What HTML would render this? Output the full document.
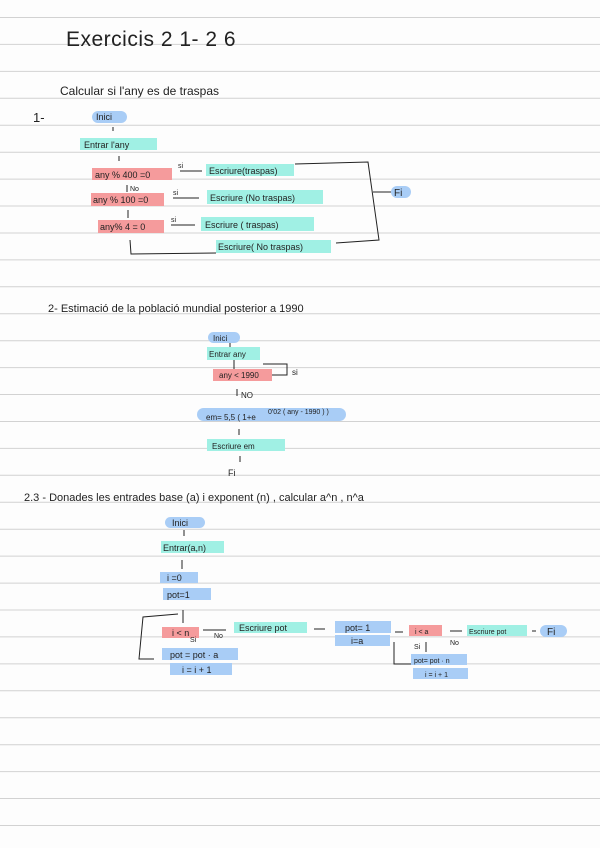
<!DOCTYPE html>
<html><head><meta charset="utf-8">
<style>
html,body{margin:0;padding:0;background:#fdfdfd;}
body{width:600px;height:848px;position:relative;overflow:hidden;font-family:"Liberation Sans",sans-serif;color:#222;}
svg{position:absolute;left:0;top:0;}
text{font-family:"Liberation Sans",sans-serif;fill:#222;}
</style></head><body>
<svg width="600" height="848" viewBox="0 0 600 848">
<g stroke="#d2d2d2" stroke-width="1">
<line x1="0" y1="17.5" x2="600" y2="17.5"/><line x1="0" y1="44.4" x2="600" y2="44.4"/><line x1="0" y1="71.4" x2="600" y2="71.4"/><line x1="0" y1="98.3" x2="600" y2="98.3"/><line x1="0" y1="125.2" x2="600" y2="125.2"/><line x1="0" y1="152.2" x2="600" y2="152.2"/><line x1="0" y1="179.1" x2="600" y2="179.1"/><line x1="0" y1="206" x2="600" y2="206"/><line x1="0" y1="233" x2="600" y2="233"/><line x1="0" y1="259.9" x2="600" y2="259.9"/><line x1="0" y1="286.8" x2="600" y2="286.8"/><line x1="0" y1="313.7" x2="600" y2="313.7"/><line x1="0" y1="340.7" x2="600" y2="340.7"/><line x1="0" y1="367.6" x2="600" y2="367.6"/><line x1="0" y1="394.5" x2="600" y2="394.5"/><line x1="0" y1="421.5" x2="600" y2="421.5"/><line x1="0" y1="448.4" x2="600" y2="448.4"/><line x1="0" y1="475.3" x2="600" y2="475.3"/><line x1="0" y1="502.3" x2="600" y2="502.3"/><line x1="0" y1="529.2" x2="600" y2="529.2"/><line x1="0" y1="556.1" x2="600" y2="556.1"/><line x1="0" y1="583.1" x2="600" y2="583.1"/><line x1="0" y1="610" x2="600" y2="610"/><line x1="0" y1="636.9" x2="600" y2="636.9"/><line x1="0" y1="663.9" x2="600" y2="663.9"/><line x1="0" y1="690.8" x2="600" y2="690.8"/><line x1="0" y1="717.7" x2="600" y2="717.7"/><line x1="0" y1="744.7" x2="600" y2="744.7"/><line x1="0" y1="771.6" x2="600" y2="771.6"/><line x1="0" y1="798.5" x2="600" y2="798.5"/><line x1="0" y1="825.5" x2="600" y2="825.5"/>
</g>
<!-- headings -->
<text x="66" y="46" font-size="21" font-weight="300" letter-spacing="0.5">Exercicis  2 1- 2 6</text>
<text x="60" y="95" font-size="12">Calcular si l'any es de traspas</text>
<text x="33" y="122" font-size="13">1-</text>

<!-- section 1 shapes -->
<g>
<rect x="92" y="111" width="35" height="12" rx="6" fill="#a9cdf6"/>
<rect x="80" y="138" width="77" height="12" fill="#a0f0e4"/>
<rect x="92" y="168" width="80" height="12" fill="#f59b9c"/>
<rect x="206" y="164" width="88" height="12" fill="#a0f0e4"/>
<rect x="91" y="193" width="73" height="13" fill="#f59b9c"/>
<rect x="207" y="190" width="116" height="14" fill="#a0f0e4"/>
<rect x="98" y="220" width="66" height="13" fill="#f59b9c"/>
<rect x="201" y="217" width="113" height="14" fill="#a0f0e4"/>
<rect x="216" y="240" width="115" height="13" fill="#a0f0e4"/>
<rect x="391" y="186" width="20" height="12" rx="6" fill="#a9cdf6"/>
</g>
<g stroke="#222" stroke-width="1" fill="none">
<line x1="113" y1="127" x2="113" y2="131"/>
<line x1="119" y1="156" x2="119" y2="161"/>
<line x1="127" y1="185" x2="127" y2="192"/>
<line x1="128" y1="210" x2="128" y2="218"/>
<line x1="180" y1="171" x2="202" y2="171"/>
<line x1="173" y1="198" x2="199" y2="198"/>
<line x1="171" y1="225" x2="195" y2="225"/>
<polyline points="295,164 368,162 379,240 336,243"/>
<line x1="373" y1="192" x2="391" y2="192"/>
<polyline points="130,240 131,254 216,253"/>
</g>
<g font-size="9">
<text x="95" y="178">any % 400 =0</text>
<text x="93" y="203">any % 100 =0</text>
<text x="100" y="230">any% 4 = 0</text>
<text x="178" y="168" font-size="7">si</text>
<text x="173" y="195" font-size="7">si</text>
<text x="171" y="222" font-size="7">si</text>
<text x="130" y="191" font-size="7">No</text>
<text x="209" y="174">Escriure(traspas)</text>
<text x="210" y="201">Escriure (No traspas)</text>
<text x="205" y="228">Escriure ( traspas)</text>
<text x="218" y="250">Escriure( No traspas)</text>
<text x="96" y="120">Inici</text>
<text x="84" y="148">Entrar l'any</text>
<text x="394" y="196" font-size="10">Fi</text>
</g>

<!-- section 2 -->
<text x="48" y="312" font-size="11">2- Estimació de la població mundial posterior a 1990</text>
<rect x="208" y="332" width="32" height="11" rx="5.5" fill="#a9cdf6"/>
<rect x="207" y="347" width="53" height="13" fill="#a0f0e4"/>
<rect x="213" y="369" width="59" height="12" fill="#f59b9c"/>
<rect x="197" y="408" width="149" height="13" rx="6.5" fill="#a9cdf6"/>
<rect x="207" y="439" width="78" height="12" fill="#a0f0e4"/>
<g stroke="#222" stroke-width="1" fill="none">
<line x1="230" y1="343" x2="230" y2="347"/>
<line x1="234" y1="360" x2="234" y2="369"/>
<polyline points="272,375 287,375 287,364 263,364"/>
<line x1="237" y1="389" x2="237" y2="396"/>
<line x1="239" y1="429" x2="239" y2="435"/>
<line x1="240" y1="456" x2="240" y2="462"/>
</g>
<g font-size="8">
<text x="213" y="341">Inici</text>
<text x="209" y="357">Entrar any</text>
<text x="219" y="378">any &lt; 1990</text>
<text x="292" y="375">si</text>
<text x="241" y="398">NO</text>
<text x="206" y="420">em= 5,5 ( 1+e</text>
<text x="268" y="414" font-size="7">0'02 ( any - 1990 ) )</text>
<text x="212" y="449">Escriure  em</text>
<text x="228" y="476" font-size="9">Fi</text>
</g>

<!-- section 3 -->
<text x="24" y="501" font-size="11">2.3 - Donades les entrades base (a) i exponent (n) , calcular a^n , n^a</text>
<rect x="165" y="517" width="40" height="11" rx="5.5" fill="#a9cdf6"/>
<rect x="161" y="541" width="63" height="12" fill="#a0f0e4"/>
<rect x="160" y="572" width="38" height="11" fill="#a9cdf6"/>
<rect x="163" y="588" width="48" height="12" fill="#a9cdf6"/>
<rect x="162" y="627" width="37" height="11" fill="#f59b9c"/>
<rect x="234" y="622" width="73" height="11" fill="#a0f0e4"/>
<rect x="335" y="621" width="56" height="12" fill="#a9cdf6"/>
<rect x="335" y="635" width="55" height="11" fill="#a9cdf6"/>
<rect x="409" y="625" width="33" height="11" fill="#f59b9c"/>
<rect x="467" y="625" width="60" height="11" fill="#a0f0e4"/>
<rect x="540" y="625" width="27" height="12" rx="6" fill="#a9cdf6"/>
<rect x="162" y="648" width="76" height="12" fill="#a9cdf6"/>
<rect x="170" y="663" width="62" height="12" fill="#a9cdf6"/>
<rect x="411" y="654" width="56" height="11" fill="#a9cdf6"/>
<rect x="413" y="668" width="55" height="11" fill="#a9cdf6"/>
<g stroke="#222" stroke-width="1" fill="none">
<line x1="184" y1="530" x2="184" y2="536"/>
<line x1="182" y1="560" x2="182" y2="569"/>
<line x1="183" y1="610" x2="183" y2="623"/>
<polyline points="178,614 143,617 139,659 154,659"/>
<line x1="203" y1="630" x2="226" y2="630"/>
<line x1="314" y1="629" x2="325" y2="629"/>
<line x1="395" y1="632" x2="403" y2="632"/>
<line x1="450" y1="631" x2="462" y2="631"/>
<line x1="532" y1="631" x2="536" y2="631"/>
<line x1="426" y1="642" x2="426" y2="652"/>
<polyline points="394,642 394,664 411,664"/>
</g>
<g font-size="9">
<text x="172" y="526">Inici</text>
<text x="163" y="551">Entrar(a,n)</text>
<text x="167" y="581">i =0</text>
<text x="167" y="598">pot=1</text>
<text x="172" y="636">i &lt; n</text>
<text x="214" y="638" font-size="7">No</text>
<text x="190" y="642" font-size="7">Si</text>
<text x="239" y="631">Escriure  pot</text>
<text x="345" y="631">pot= 1</text>
<text x="351" y="644">i=a</text>
<text x="415" y="634" font-size="7">i &lt; a</text>
<text x="450" y="645" font-size="7">No</text>
<text x="414" y="649" font-size="7">Si</text>
<text x="469" y="634" font-size="7">Escriure pot</text>
<text x="547" y="635" font-size="10">Fi</text>
<text x="170" y="658">pot = pot · a</text>
<text x="182" y="673">i = i + 1</text>
<text x="414" y="663" font-size="7">pot= pot · n</text>
<text x="425" y="677" font-size="7">i = i + 1</text>
</g>
</svg>
</body></html>
